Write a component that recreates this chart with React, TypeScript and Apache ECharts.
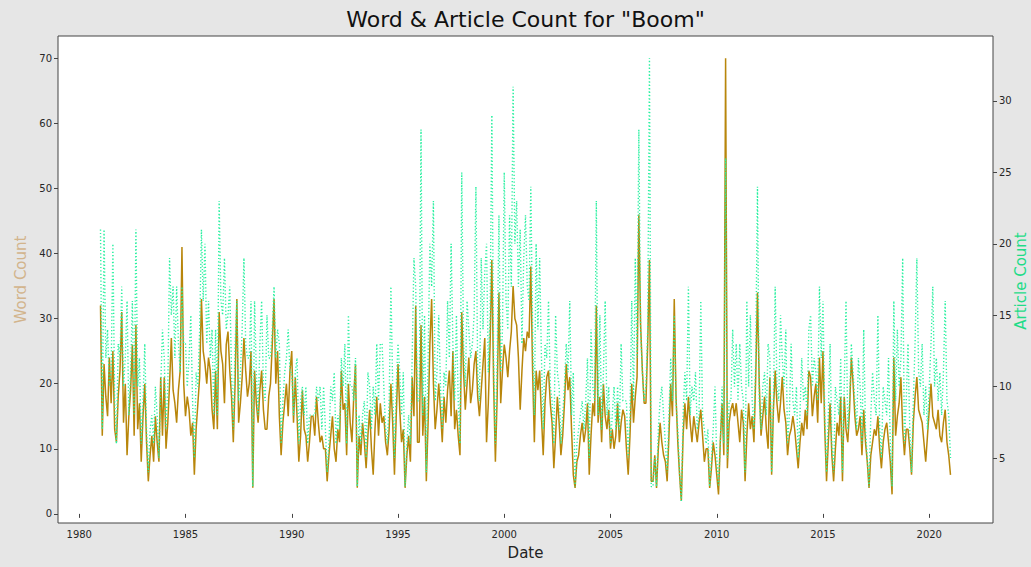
import React, { useEffect, useRef } from "react";
import * as echarts from "echarts";

// Monthly observations, January 1981 .. January 2021
const startYear = 1981;

const wordCount = [
  32, 12, 23, 18, 15, 24, 17, 25, 13, 11, 18, 22, // 1981
  31, 14, 20, 9, 15, 19, 26, 12, 29, 13, 17, 8, // 1982
  15, 20, 11, 5, 9, 12, 8, 15, 11, 8, 21, 12, // 1983
  21, 10, 14, 20, 27, 19, 17, 14, 19, 22, 41, 20, // 1984
  15, 18, 16, 12, 14, 6, 13, 17, 21, 33, 25, 23, // 1985
  20, 24, 22, 16, 13, 22, 13, 31, 25, 23, 17, 26, // 1986
  28, 22, 18, 11, 20, 33, 14, 17, 21, 27, 22, 18, // 1987
  20, 25, 4, 22, 17, 14, 19, 22, 16, 13, 13, 18, // 1988
  20, 26, 33, 20, 25, 15, 9, 14, 17, 20, 15, 22, // 1989
  25, 14, 21, 15, 8, 12, 19, 13, 12, 8, 11, 15, // 1990
  15, 12, 18, 14, 11, 12, 10, 10, 5, 9, 12, 15, // 1991
  10, 8, 13, 11, 22, 16, 17, 9, 20, 14, 11, 18, // 1992
  23, 4, 12, 9, 14, 11, 7, 12, 16, 10, 6, 13, // 1993
  18, 12, 17, 14, 15, 11, 9, 13, 20, 14, 6, 15, // 1994
  23, 16, 11, 13, 4, 9, 12, 8, 21, 15, 32, 11, // 1995
  11, 29, 12, 18, 5, 14, 26, 33, 20, 13, 16, 20, // 1996
  16, 11, 18, 14, 19, 22, 15, 25, 13, 16, 12, 9, // 1997
  31, 22, 16, 20, 24, 17, 19, 23, 25, 18, 15, 19, // 1998
  23, 27, 11, 17, 26, 39, 20, 8, 18, 34, 17, 22, // 1999
  26, 24, 21, 25, 28, 35, 30, 29, 24, 16, 22, 27, // 2000
  25, 28, 27, 38, 22, 11, 22, 19, 22, 15, 9, 17, // 2001
  21, 22, 17, 14, 7, 12, 18, 14, 9, 12, 17, 23, // 2002
  19, 21, 13, 6, 4, 8, 9, 12, 14, 11, 13, 17, // 2003
  6, 12, 17, 15, 32, 14, 18, 11, 20, 15, 13, 16, // 2004
  10, 13, 10, 12, 17, 11, 14, 16, 15, 10, 6, 12, // 2005
  20, 14, 18, 21, 46, 29, 22, 17, 17, 26, 39, 5, // 2006
  5, 9, 4, 10, 14, 11, 9, 8, 5, 12, 20, 15, // 2007
  33, 18, 11, 6, 2, 12, 17, 13, 18, 14, 11, 15, // 2008
  13, 11, 14, 16, 12, 8, 10, 10, 4, 7, 11, 9, // 2009
  6, 3, 11, 17, 9, 70, 7, 14, 16, 17, 15, 17, // 2010
  14, 11, 16, 14, 5, 12, 17, 13, 15, 11, 21, 34, // 2011
  20, 12, 15, 18, 13, 10, 21, 6, 16, 22, 17, 14, // 2012
  17, 21, 16, 14, 9, 12, 13, 15, 13, 10, 7, 11, // 2013
  14, 12, 16, 13, 22, 21, 15, 18, 20, 14, 24, 17, // 2014
  25, 13, 5, 11, 17, 9, 5, 10, 14, 12, 18, 5, // 2015
  18, 13, 11, 16, 24, 20, 15, 12, 13, 15, 9, 16, // 2016
  11, 8, 4, 9, 11, 13, 12, 15, 10, 7, 11, 13, // 2017
  14, 11, 8, 3, 24, 12, 15, 17, 21, 13, 9, 13, // 2018
  13, 10, 6, 14, 18, 21, 16, 15, 14, 11, 8, 12, // 2019
  16, 20, 15, 14, 13, 16, 12, 11, 14, 16, 11, 9, // 2020
  6, // 2021
];

const articleCount = [
  21, 7, 21, 12, 14, 10, 11, 20, 9, 6, 13, 12, // 1981
  17, 10, 12, 16, 8, 11, 16, 8, 21, 10, 12, 6, // 1982
  9, 13, 7, 4, 7, 8, 6, 10, 8, 5, 10, 14, // 1983
  12, 7, 10, 19, 15, 17, 12, 17, 13, 11, 17, 13, // 1984
  13, 10, 12, 15, 9, 5, 11, 10, 14, 21, 16, 20, // 1985
  13, 16, 12, 14, 8, 14, 8, 23, 16, 15, 19, 14, // 1986
  15, 17, 11, 7, 13, 16, 9, 11, 14, 19, 13, 12, // 1987
  12, 16, 3, 16, 11, 8, 13, 16, 10, 9, 15, 12, // 1988
  12, 14, 17, 12, 14, 13, 6, 9, 11, 12, 14, 11, // 1989
  11, 8, 11, 12, 6, 9, 10, 8, 10, 6, 8, 8, // 1990
  8, 8, 10, 9, 10, 7, 10, 7, 4, 6, 10, 9, // 1991
  11, 6, 8, 7, 12, 10, 13, 6, 15, 10, 10, 9, // 1992
  12, 3, 8, 6, 8, 9, 5, 11, 10, 7, 10, 8, // 1993
  13, 9, 13, 13, 10, 7, 6, 9, 17, 10, 5, 10, // 1994
  13, 11, 8, 11, 3, 6, 8, 6, 12, 19, 17, 9, // 1995
  9, 28, 8, 15, 4, 12, 20, 17, 23, 9, 11, 15, // 1996
  10, 7, 11, 10, 16, 12, 20, 13, 9, 15, 9, 6, // 1997
  25, 13, 10, 16, 14, 12, 13, 15, 24, 11, 9, 19, // 1998
  14, 18, 20, 11, 15, 29, 12, 6, 12, 22, 11, 14, // 1999
  25, 16, 14, 22, 17, 31, 20, 23, 17, 21, 13, 19, // 2000
  22, 17, 16, 24, 14, 8, 20, 14, 19, 12, 7, 13, // 2001
  12, 16, 10, 9, 6, 15, 11, 10, 6, 8, 10, 13, // 2002
  11, 16, 8, 11, 3, 6, 7, 8, 9, 7, 9, 12, // 2003
  5, 14, 10, 9, 23, 8, 15, 7, 11, 16, 8, 10, // 2004
  6, 8, 10, 7, 10, 7, 13, 9, 9, 9, 5, 8, // 2005
  16, 9, 19, 12, 28, 14, 11, 9, 10, 14, 33, 3, // 2006
  3, 5, 3, 7, 9, 10, 8, 6, 4, 8, 12, 9, // 2007
  15, 9, 7, 4, 2, 8, 11, 9, 17, 8, 10, 9, // 2008
  11, 7, 8, 16, 8, 7, 6, 7, 3, 5, 7, 10, // 2009
  5, 3, 6, 10, 6, 26, 5, 9, 9, 14, 10, 13, // 2010
  9, 13, 10, 9, 4, 16, 10, 15, 9, 7, 12, 24, // 2011
  9, 7, 10, 11, 8, 13, 12, 4, 9, 17, 10, 9, // 2012
  15, 12, 10, 14, 6, 8, 13, 9, 8, 10, 5, 8, // 2013
  12, 9, 10, 8, 14, 15, 10, 12, 11, 9, 17, 12, // 2014
  16, 8, 4, 8, 13, 6, 4, 10, 9, 8, 12, 4, // 2015
  10, 16, 7, 9, 13, 11, 9, 7, 12, 10, 6, 14, // 2016
  7, 5, 3, 8, 11, 9, 8, 15, 7, 5, 10, 9, // 2017
  8, 12, 6, 3, 16, 9, 14, 10, 12, 19, 6, 9, // 2018
  13, 7, 4, 9, 13, 19, 11, 10, 13, 8, 10, 7, // 2019
  10, 13, 17, 10, 12, 9, 11, 8, 11, 16, 9, 8, // 2020
  5, // 2021
];

const yearTicks = [1980, 1985, 1990, 1995, 2000, 2005, 2010, 2015, 2020];
const wordTicks = [0, 10, 20, 30, 40, 50, 60, 70];
const articleTicks = [5, 10, 15, 20, 25, 30];

const FONT = "DejaVu Sans";

export default function App() {
  const ref = useRef<HTMLDivElement>(null);

  useEffect(() => {
    if (!ref.current) return;
    const chart = echarts.init(ref.current, null, { renderer: "svg" });

    const wordData = wordCount.map((v, i) => [startYear + i / 12, v]);
    const articleData = articleCount.map((v, i) => [startYear + i / 12, v]);

    const tickLabel = {
      fontFamily: FONT,
      fontSize: 10,
      color: "#262626",
      formatter: (v: number) => String(v),
    };

    chart.setOption({
      animation: false,
      backgroundColor: "#e6e6e6",
      graphic: [
        {
          type: "text",
          x: 525.5,
          y: 19,
          style: {
            text: 'Word & Article Count for "Boom"',
            font: `22px "${FONT}"`,
            fill: "#111",
            textAlign: "center",
            textVerticalAlign: "middle",
          },
        },
        {
          type: "text",
          x: 1021,
          y: 281,
          rotation: Math.PI / 2,
          style: {
            text: "Article Count",
            font: `15px "${FONT}"`,
            fill: "#1fdc88",
            textAlign: "center",
            textVerticalAlign: "middle",
          },
        },
      ],
      grid: {
        left: 58,
        right: 38,
        top: 36,
        bottom: 44,
        show: true,
        backgroundColor: "#ffffff",
        borderColor: "#444",
        borderWidth: 1,
        containLabel: false,
      },
      xAxis: {
        type: "value",
        min: 1979,
        max: 2023,
        name: "Date",
        nameLocation: "middle",
        nameGap: 22,
        nameTextStyle: { fontFamily: FONT, fontSize: 15, color: "#222" },
        axisLine: { show: false },
        splitLine: { show: false },
        axisTick: {
          show: true,
          customValues: yearTicks,
          length: 4,
          lineStyle: { color: "#444" },
        },
        axisLabel: { ...tickLabel, customValues: yearTicks, margin: 6 },
      },
      yAxis: [
        {
          type: "value",
          position: "left",
          min: -1.4,
          max: 73.4,
          name: "Word Count",
          nameLocation: "middle",
          nameRotate: 90,
          nameGap: 30,
          nameTextStyle: { fontFamily: FONT, fontSize: 15, color: "#d2b48c" },
          axisLine: { show: false },
          splitLine: { show: false },
          axisTick: {
            show: true,
            customValues: wordTicks,
            length: 4,
            lineStyle: { color: "#444" },
          },
          axisLabel: { ...tickLabel, customValues: wordTicks, margin: 6 },
        },
        {
          type: "value",
          position: "right",
          min: 0.45,
          max: 34.55,
          axisLine: { show: false },
          splitLine: { show: false },
          axisTick: {
            show: true,
            customValues: articleTicks,
            length: 4,
            lineStyle: { color: "#444" },
          },
          axisLabel: { ...tickLabel, customValues: articleTicks, margin: 6 },
        },
      ],
      series: [
        {
          name: "Word Count",
          type: "line",
          yAxisIndex: 0,
          data: wordData,
          showSymbol: false,
          symbol: "none",
          lineStyle: { color: "#b8860b", width: 1.5 },
          z: 2,
        },
        {
          name: "Article Count",
          type: "line",
          yAxisIndex: 1,
          data: articleData,
          showSymbol: false,
          symbol: "none",
          lineStyle: { color: "#28f0a0", width: 1.4, type: [1.2, 2.2] },
          z: 3,
        },
      ],
    });

    return () => chart.dispose();
  }, []);

  return (
    <div
      ref={ref}
      style={{ position: "fixed", left: 0, top: 0, width: 1031, height: 567 }}
    />
  );
}
